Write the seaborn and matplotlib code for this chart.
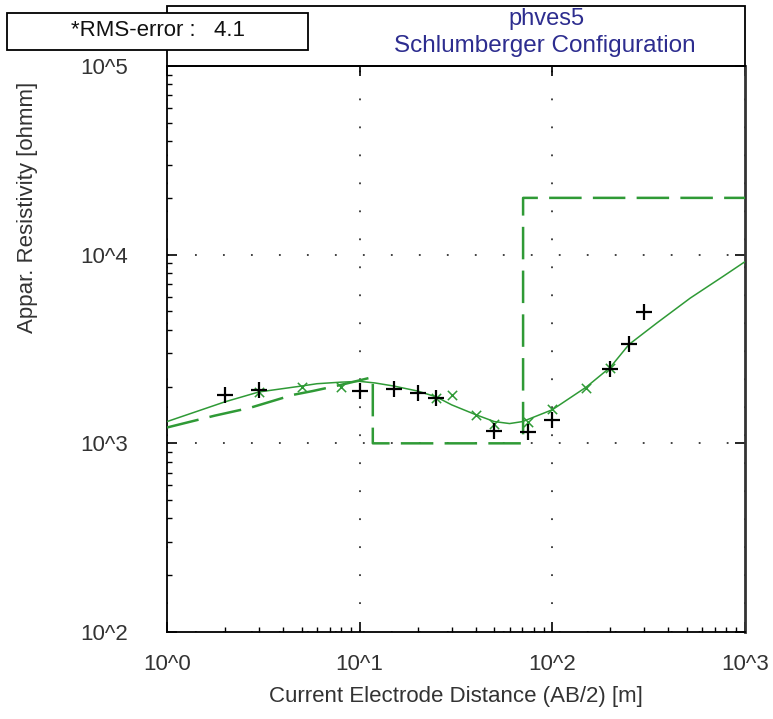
import matplotlib
matplotlib.use("Agg")
import matplotlib.pyplot as plt
import matplotlib.ticker as mticker
from matplotlib.patches import Rectangle
import seaborn as sns
import pandas as pd

# ---------------- data ----------------
obs_ab2 = [2, 3, 10, 15, 20, 25, 50, 75, 100, 200, 250, 300]
obs_rho = [1806, 1918, 1893, 1941, 1849, 1741, 1156, 1142, 1336, 2472, 3343, 4966]

calc_ab2 = [3, 5, 8, 25, 30, 40, 50, 75, 100, 150, 200]
calc_rho = [1872, 1980, 2000, 1740, 1806, 1419, 1273, 1290, 1524, 1962, 2497]

curve_ab2 = [1, 2, 3, 5, 6, 8, 10, 12, 15, 20, 25, 30, 40, 50, 60, 70,
             100, 150, 200, 250, 350, 520, 770, 1000]
curve_rho = [1304, 1660, 1872, 2013, 2070, 2110, 2130, 2090, 2013, 1893, 1762,
             1600, 1419, 1304, 1273, 1304, 1507, 1987, 2530, 3343, 4355, 5888,
             7674, 9180]

model_depth = [1, 1.77, 2.7, 4.5, 5.7, 7.9, 11.7, 11.7, 70.5, 70.5, 1000]
model_rho = [1213, 1402, 1543, 1806, 1893, 2035, 2244, 1000, 1000, 20000, 20000]

x_ticks = [1, 10, 100, 1000]
x_ticklabels = ["10^0", "10^1", "10^2", "10^3"]
y_ticks = [100, 1000, 10000, 100000]
y_ticklabels = ["10^2", "10^3", "10^4", "10^5"]

title_lines = ["phves5", "Schlumberger Configuration"]
rms_text = "*RMS-error :   4.1"
xlabel = "Current Electrode Distance (AB/2) [m]"
ylabel = "Appar. Resistivity [ohmm]"

# ---------------- style ----------------
sns.set_style("ticks")
plt.rcParams["font.family"] = ["Liberation Sans", "DejaVu Sans"]

W, H = 773, 719
fig = plt.figure(figsize=(W / 100, H / 100), dpi=100)
fig.patch.set_facecolor("white")

L, R, T, B = 167, 745, 66, 632
ax = fig.add_axes([L / W, 1 - B / H, (R - L) / W, (B - T) / H])
ax.set_xscale("log")
ax.set_yscale("log")
ax.set_facecolor("white")

green = "#2f9a36"

df_obs = pd.DataFrame({"ab2": obs_ab2, "rho": obs_rho})
df_calc = pd.DataFrame({"ab2": calc_ab2, "rho": calc_rho})
df_curve = pd.DataFrame({"ab2": curve_ab2, "rho": curve_rho})
df_model = pd.DataFrame({"ab2": model_depth, "rho": model_rho})

sns.lineplot(data=df_model, x="ab2", y="rho", ax=ax, sort=False, estimator=None,
             color=green, linewidth=1.8, zorder=3)
ax.lines[-1].set_dashes([13, 4.5])

sns.lineplot(data=df_curve, x="ab2", y="rho", ax=ax, sort=False, estimator=None,
             color=green, linewidth=1.1, zorder=4)

sns.scatterplot(data=df_calc, x="ab2", y="rho", ax=ax, marker="x", s=45,
                color=green, linewidth=1.1, zorder=5)
sns.scatterplot(data=df_obs, x="ab2", y="rho", ax=ax, marker="+", s=130,
                color="black", linewidth=1.6, zorder=6)

ax.set_xlim(1, 1000)
ax.set_ylim(100, 100000)

ax.xaxis.set_major_locator(mticker.FixedLocator(x_ticks))
ax.xaxis.set_major_formatter(mticker.FixedFormatter(x_ticklabels))
ax.yaxis.set_major_locator(mticker.FixedLocator(y_ticks))
ax.yaxis.set_major_formatter(mticker.FixedFormatter(y_ticklabels))
ax.xaxis.set_minor_locator(mticker.LogLocator(base=10, subs=range(2, 10)))
ax.yaxis.set_minor_locator(mticker.LogLocator(base=10, subs=range(2, 10)))
ax.xaxis.set_minor_formatter(mticker.NullFormatter())
ax.yaxis.set_minor_formatter(mticker.NullFormatter())

ax.tick_params(which="major", direction="in", length=7, width=1.2,
               top=True, right=True, color="black", labelcolor="#333333",
               labelsize=16)
ax.tick_params(which="minor", direction="in", length=3.5, width=1,
               top=False, right=False, color="black")
ax.tick_params(axis="x", which="major", pad=16)
ax.tick_params(axis="y", which="major", pad=28)

ax.grid(which="major", linestyle=(0, (1, 14.5)), linewidth=1.3, color="#333333")
ax.grid(which="minor", visible=False)
ax.set_axisbelow(True)

for side in ["left", "bottom", "top"]:
    ax.spines[side].set_color("black")
    ax.spines[side].set_linewidth(1.3)
ax.spines["right"].set_color("#333333")
ax.spines["right"].set_linewidth(2.0)

ax.set_xlabel(xlabel, fontsize=16, color="#333333")
ax.set_ylabel(ylabel, fontsize=16, color="#333333")
ax.xaxis.set_label_coords(0.5, (B - 686) / (B - T))
ax.yaxis.set_label_coords((38 - L) / (R - L), (B - 207) / (B - T))

# title box above the plot
fig.add_artist(Rectangle((L / W, 1 - T / H), (R - L) / W, (T - 6) / H,
                         transform=fig.transFigure, fill=False,
                         edgecolor="black", linewidth=1.3, zorder=2))
fig.text(547 / W, 1 - 19 / H, title_lines[0], ha="center",
         va="center", fontsize=17, color="#2d2d8f")
fig.text(545 / W, 1 - 46 / H, title_lines[1], ha="center",
         va="center", fontsize=17.5, color="#2d2d8f")

# RMS box
fig.add_artist(Rectangle((7 / W, 1 - 50 / H), (308 - 7) / W, 37 / H,
                         transform=fig.transFigure, facecolor="white",
                         edgecolor="black", linewidth=1.3, zorder=5))
fig.text(158 / W, 1 - 31 / H, rms_text, ha="center", va="center",
         fontsize=16, color="#111111", zorder=6)

fig.savefig("out.png", dpi=100, facecolor="white")
